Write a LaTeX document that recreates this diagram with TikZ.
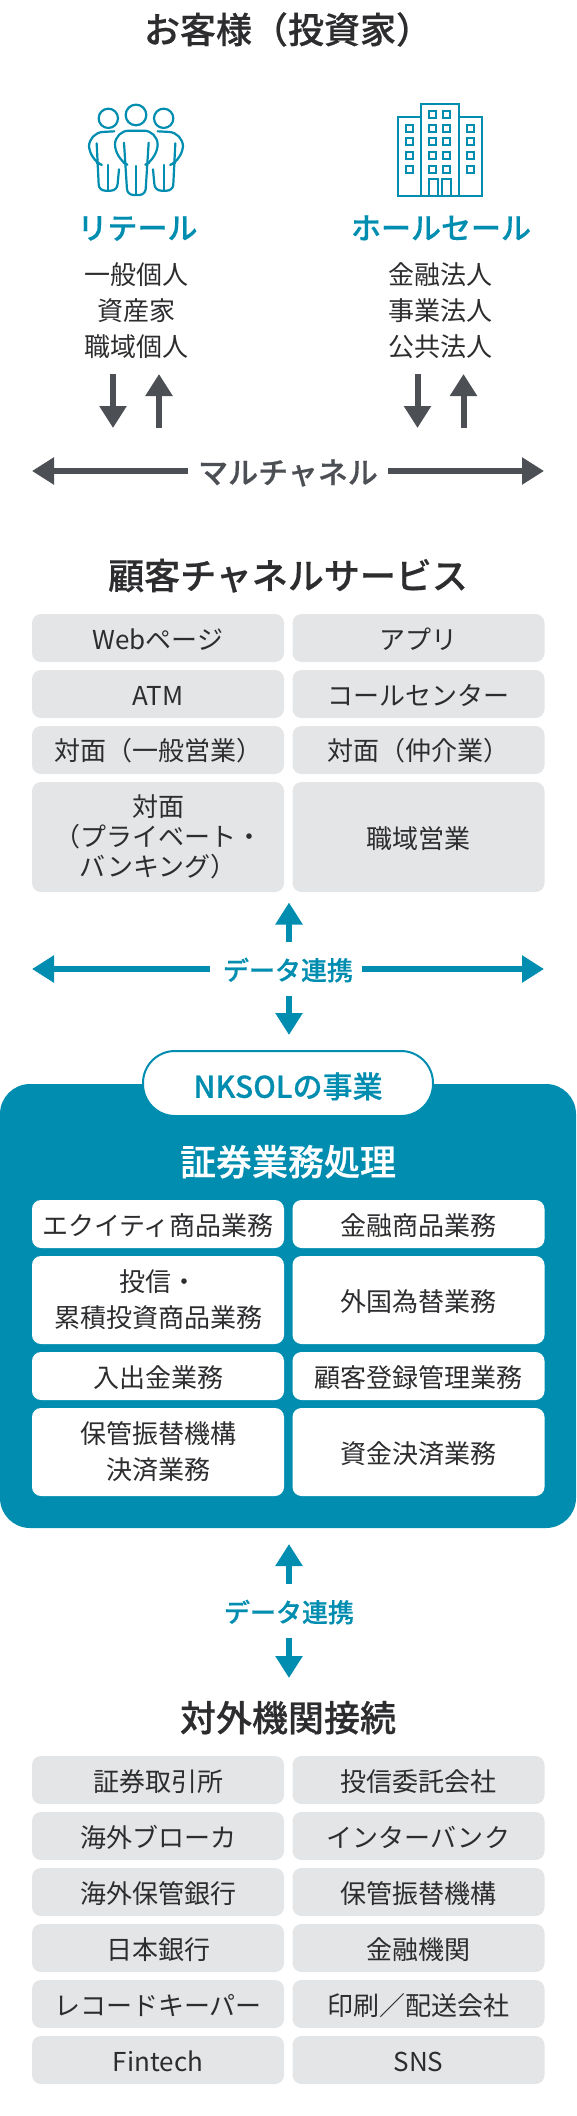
\documentclass[tikz,border=0pt]{standalone}
\usepackage{fontspec}
\setmainfont{Noto Sans CJK JP}
\newfontfamily\medium[FakeBold=0.5]{Noto Sans CJK JP Medium}
\usetikzlibrary{arrows.meta}
\definecolor{teal}{RGB}{0,141,176}
\definecolor{darkg}{RGB}{76,79,84}
\definecolor{boxg}{RGB}{228,229,231}
\definecolor{ink}{RGB}{45,45,48}
\newcommand\st{\rule[-.06em]{0pt}{1em}}
\tikzset{
  lbl/.style={inner sep=0pt,align=center,text=ink,font=\fontsize{26}{30}\selectfont,execute at begin node=\st},
  heading/.style={lbl,font=\medium\fontsize{36}{40}\selectfont},
  gbox/.style={lbl,fill=boxg,rounded corners=9pt,minimum width=252pt,minimum height=48pt},
  wbox/.style={gbox,fill=white},
  tealhead/.style={lbl,text=teal,font=\medium\fontsize{30}{34}\selectfont},
  datalbl/.style={lbl,text=teal,font=\medium\fontsize{26}{30}\selectfont,minimum width=152pt,minimum height=54pt},
  darr/.style={draw=darkg,line width=6pt,-{Triangle[length=22pt,width=26pt]}},
  tarr/.style={draw=teal,line width=6pt,-{Triangle[length=22pt,width=26pt]}},
  icon/.style={draw=teal,line width=2.2pt,line cap=round,line join=round},
  bld/.style={draw=teal,line width=2pt,line join=miter},
}
\begin{document}
\begin{tikzpicture}[x=1pt,y=-1pt]
\useasboundingbox (0,0) rectangle (576,2116);
% customers
\node[heading] (t1) at (288,28) {お客様（投資家）};
% people icon
\begin{scope}[shift={(70,90)},x=.3333pt,y=-.3333pt]
\draw[icon] (198,75) circle[radius=31];
\draw[icon] (115,85) circle[radius=29];
\draw[icon] (281,85) circle[radius=29];
\draw[icon,rounded corners=14pt] (160,218) -- (135,205) -- (135,122) -- (263,122) -- (263,205) -- (238,218);
\draw[icon,rounded corners=6pt] (162,158) -- (172,315) -- (226,315) -- (236,158);
\draw[icon] (198,228) -- (198,315);
\draw[icon,rounded corners=14pt] (133,124) -- (57,128) -- (57,208) -- (80,218);
\draw[icon,rounded corners=6pt] (80,160) -- (87,302) -- (141,302) -- (147,238);
\draw[icon] (115,225) -- (115,300);
\draw[icon,rounded corners=14pt] (263,124) -- (339,128) -- (339,208) -- (316,218);
\draw[icon,rounded corners=6pt] (316,160) -- (309,302) -- (255,302) -- (249,238);
\draw[icon] (281,225) -- (281,300);
\end{scope}
% building icon
\begin{scope}[shift={(380,90)},x=.3333pt,y=-.3333pt]
\draw[bld] (122,42) rectangle (236,318);
\draw[bld] (53,82) rectangle (122,318);
\draw[bld] (236,82) rectangle (305,318);
\foreach \wy in {72,114,155,196,238}{
  \draw[bld] (148,\wy-10) rectangle +(21,21);
  \draw[bld] (189,\wy-10) rectangle +(21,21);
}
\foreach \wy in {114,155,196,238}{
  \draw[bld] (78,\wy-10) rectangle +(21,21);
  \draw[bld] (260,\wy-10) rectangle +(21,21);
}
\draw[bld] (147,268) rectangle (175,318);
\draw[bld] (185,268) rectangle (212,318);
\end{scope}
\node[tealhead] (ret) at (137.5,226) {リテール};
\node[tealhead] (who) at (441,226) {ホールセール};
\node[lbl] (r1) at (136.5,273.5) {一般個人};
\node[lbl] (r2) at (136.5,309.5) {資産家};
\node[lbl] (r3) at (136.5,345.5) {職域個人};
\node[lbl] (w1) at (440.5,273.5) {金融法人};
\node[lbl] (w2) at (440.5,309.5) {事業法人};
\node[lbl] (w3) at (440.5,345.5) {公共法人};
\coordinate (a1s) at (113,374); \coordinate (a1e) at (113,428);
\coordinate (a2s) at (159,428); \coordinate (a2e) at (159,374);
\coordinate (a3s) at (417.5,374); \coordinate (a3e) at (417.5,428);
\coordinate (a4s) at (463.5,428); \coordinate (a4e) at (463.5,374);
\draw[darr] (a1s) -- (a1e);
\draw[darr] (a2s) -- (a2e);
\draw[darr] (a3s) -- (a3e);
\draw[darr] (a4s) -- (a4e);
\node[lbl,text=darkg,minimum width=200pt,font=\medium\fontsize{30}{34}\selectfont] (mc) at (288,471) {マルチャネル};
\coordinate (mcl) at (32,471); \coordinate (mcr) at (544,471);
\draw[darr] (mc.west) -- (mcl);
\draw[darr] (mc.east) -- (mcr);
% channels
\node[heading] (t2) at (288,574) {顧客チャネルサービス};
\node[gbox] (c1) at (158,638) {Webページ};
\node[gbox] (c2) at (418.5,638) {アプリ};
\node[gbox] (c3) at (158,694) {ATM};
\node[gbox] (c4) at (418.5,694) {コールセンター};
\node[gbox] (c5) at (158,750) {対面（一般営業）};
\node[gbox] (c6) at (418.5,750) {対面（仲介業）};
\node[gbox,minimum height=110pt] (c7) at (158,837) {対面\\（プライベート・\\バンキング）\st};
\node[gbox,minimum height=110pt] (c8) at (418.5,837) {職域営業};
% data link 1
\node[datalbl] (d1) at (286,969) {\hspace{4pt}データ連携};
\coordinate (d1u) at (289,902.5); \coordinate (d1us) at (289,942);
\coordinate (d1d) at (289,1035); \coordinate (d1ds) at (289,996);
\coordinate (d1l) at (32,969); \coordinate (d1r) at (544,969);
\draw[tarr] (d1us) -- (d1u);
\draw[tarr] (d1ds) -- (d1d);
\draw[tarr] (d1.west) -- (d1l);
\draw[tarr] (d1.east) -- (d1r);
% business
\node[fill=teal,rounded corners=30pt,minimum width=576pt,minimum height=444pt,inner sep=0pt] (biz) at (288,1306) {};
\node[draw=teal,line width=2pt,fill=white,rounded corners=32pt,minimum width=290pt,minimum height=65pt,inner sep=0pt] (pill) at (288,1083.5) {};
\node[lbl,text=teal,font=\medium\fontsize{30}{34}\selectfont] (pt) at (288,1085) {NKSOLの事業};
\node[heading,text=white] (t3) at (288,1160) {証券業務処理};
\node[wbox] (b1) at (158,1224) {エクイティ商品業務};
\node[wbox] (b2) at (418.5,1224) {金融商品業務};
\node[wbox,minimum height=88pt,font=\fontsize{26}{36}\selectfont] (b3) at (158,1300) {投信・\\累積投資商品業務\st};
\node[wbox,minimum height=88pt] (b4) at (418.5,1300) {外国為替業務};
\node[wbox] (b5) at (158,1376) {入出金業務};
\node[wbox] (b6) at (418.5,1376) {顧客登録管理業務};
\node[wbox,minimum height=88pt,font=\fontsize{26}{36}\selectfont] (b7) at (158,1452) {保管振替機構\\決済業務\st};
\node[wbox,minimum height=88pt] (b8) at (418.5,1452) {資金決済業務};
% data link 2
\node[datalbl] (d2) at (289,1611) {データ連携};
\coordinate (d2u) at (289,1544); \coordinate (d2d) at (289,1678);
\draw[tarr] (d2.north) -- (d2u);
\draw[tarr] (d2.south) -- (d2d);
% external
\node[heading] (t4) at (288,1716) {対外機関接続};
\node[gbox] (e1) at (158,1780) {証券取引所};
\node[gbox] (e2) at (418.5,1780) {投信委託会社};
\node[gbox] (e3) at (158,1836) {海外ブローカ};
\node[gbox] (e4) at (418.5,1836) {インターバンク};
\node[gbox] (e5) at (158,1892) {海外保管銀行};
\node[gbox] (e6) at (418.5,1892) {保管振替機構};
\node[gbox] (e7) at (158,1948) {日本銀行};
\node[gbox] (e8) at (418.5,1948) {金融機関};
\node[gbox] (e9) at (158,2004) {レコードキーパー};
\node[gbox] (e10) at (418.5,2004) {印刷／配送会社};
\node[gbox] (e11) at (158,2060) {Fintech};
\node[gbox] (e12) at (418.5,2060) {SNS};
\end{tikzpicture}
\end{document}
